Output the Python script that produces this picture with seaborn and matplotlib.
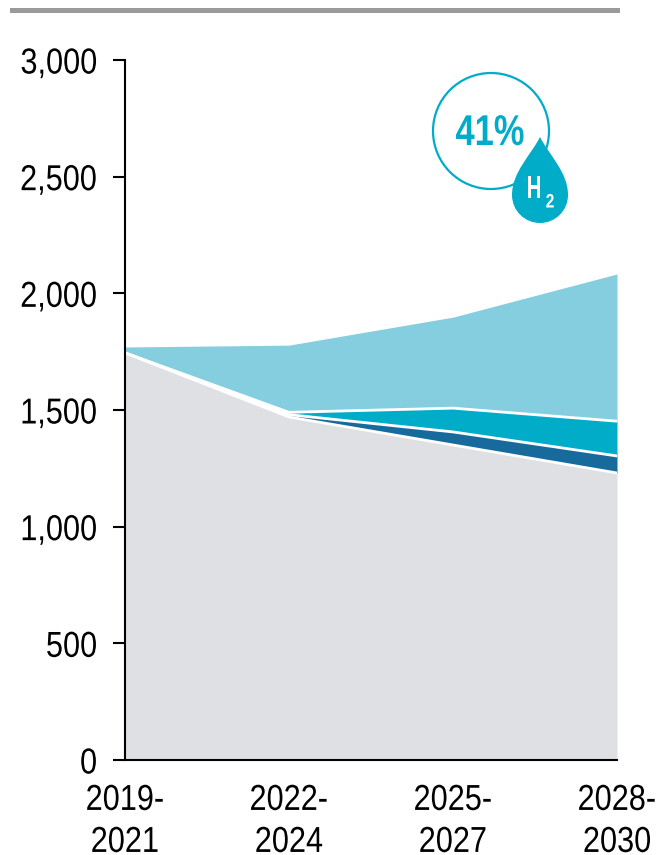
# -*- coding: utf-8 -*-
import numpy as np
import pandas as pd
import matplotlib
matplotlib.use('Agg')
import matplotlib.pyplot as plt
import seaborn as sns
from matplotlib.patches import Circle, PathPatch, Rectangle
from matplotlib.path import Path
from matplotlib.patheffects import AbstractPathEffect
from matplotlib.transforms import Affine2D

periods = ['2019-\n2021', '2022-\n2024', '2025-\n2027', '2028-\n2030']
y_ticks = [0, 500, 1000, 1500, 2000, 2500, 3000]

# band heights, stacked bottom to top
grey_band = [1745, 1470, 1350, 1230]
dark_band = [0, 10, 56, 73]
teal_band = [0, 10, 102, 149]
light_band = [25, 288, 390, 631]

GREY = '#dfe0e4'
DARK = '#166b9c'
TEAL = '#00acc8'
LIGHT = '#84cee0'


class Squeeze(AbstractPathEffect):
    """Narrow the glyphs sideways, no narrow Arial-like font is installed"""

    def __init__(self, factor, anchor='center'):
        super().__init__()
        self.factor = factor
        self.anchor = anchor

    def draw_path(self, renderer, gc, tpath, affine, rgbFace=None):
        box = tpath.transformed(affine).get_extents()
        x0 = box.x1 if self.anchor == 'right' else (box.x0 + box.x1) / 2
        squeezed = affine + Affine2D().translate(-x0, 0).scale(self.factor, 1).translate(x0, 0)
        renderer.draw_path(gc, tpath, squeezed, rgbFace)


sns.set_theme(style='white')
plt.rcParams['font.family'] = ['Liberation Sans', 'DejaVu Sans']

fig = plt.figure(figsize=(6.58, 8.55), dpi=100)
W, H = 658, 855
ax = fig.add_axes([125 / W, (H - 760) / H, (617 - 125) / W, 700 / H])

x = np.arange(len(periods))
bands = [grey_band, dark_band, teal_band, light_band]
colors = [GREY, DARK, TEAL, LIGHT]
tops = np.cumsum(np.array(bands), axis=0)

bottom = np.zeros(len(periods))
for top, color in zip(tops, colors):
    ax.fill_between(x, bottom, top, color=color, lw=0, zorder=1)
    bottom = top

# white separators between the bands
for i, top in enumerate(tops[:-1]):
    df = pd.DataFrame({'x': x, 'y': top})
    sns.lineplot(data=df, x='x', y='y', color='white', lw=2.0, ax=ax,
                 zorder=2, errorbar=None)

ax.set_xlim(0, 3)
ax.set_ylim(0, 3000)
ax.set_xlabel('')
ax.set_ylabel('')
ax.set_xticks(x)
ax.set_xticklabels(periods, fontsize=26, color='black', linespacing=1.26)
ax.set_yticks(y_ticks)
ax.set_yticklabels([f'{v:,}' for v in y_ticks], fontsize=26, color='black')
ax.tick_params(axis='y', length=8.5, width=1.5, color='black', pad=11.5, left=True)
ax.tick_params(axis='x', length=0, pad=16.5)
for label in ax.get_xticklabels():
    label.set_path_effects([Squeeze(0.85)])
for label in ax.get_yticklabels():
    label.set_path_effects([Squeeze(0.85, 'right')])
sns.despine(ax=ax)
for side in ['left', 'bottom']:
    ax.spines[side].set_linewidth(1.5)
    ax.spines[side].set_color('black')
    ax.spines[side].set_zorder(5)

# overlay in pixel coordinates for the rule and the badge
over = fig.add_axes([0, 0, 1, 1], facecolor='none')
over.set_xlim(0, W)
over.set_ylim(H, 0)
over.axis('off')

over.add_patch(Rectangle((10, 8), 610, 5.5, color='#999a9c', lw=0))
over.add_patch(Circle((491, 131), 58, fc='white', ec=TEAL, lw=1.6))

drop = Path(
    [(540, 137), (549, 155), (568, 172), (568, 195),
     (568, 211), (555, 223), (540, 223),
     (525, 223), (512, 211), (512, 195),
     (512, 172), (531, 155), (540, 137)],
    [Path.MOVETO, Path.CURVE4, Path.CURVE4, Path.CURVE4,
     Path.CURVE4, Path.CURVE4, Path.CURVE4,
     Path.CURVE4, Path.CURVE4, Path.CURVE4,
     Path.CURVE4, Path.CURVE4, Path.CURVE4])
over.add_patch(PathPatch(drop, fc=TEAL, ec='none'))

over.text(490, 134, '41%', color=TEAL, fontsize=31, fontweight='bold',
          ha='center', va='center', path_effects=[Squeeze(0.8)])
over.text(534, 190, 'H', color='white', fontsize=23, fontweight='bold',
          ha='center', va='center', path_effects=[Squeeze(0.65)])
over.text(550, 203, '2', color='white', fontsize=14, fontweight='bold',
          ha='center', va='center', path_effects=[Squeeze(0.8)])

fig.savefig('out.png', dpi=100)
